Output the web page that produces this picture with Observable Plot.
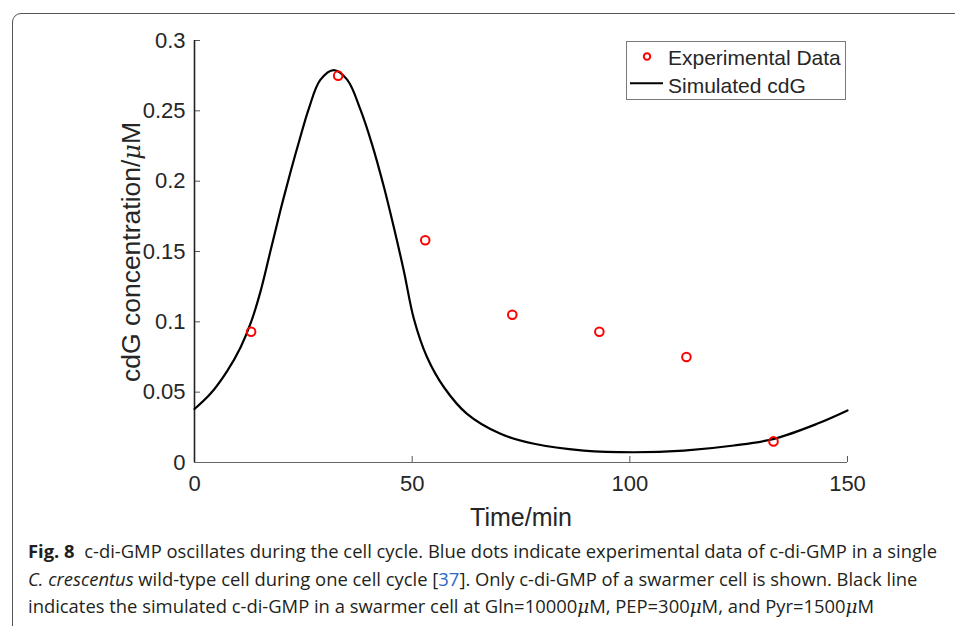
<!DOCTYPE html>
<html>
<head>
<meta charset="utf-8">
<script src="https://cdn.jsdelivr.net/npm/d3@7"></script>
<script src="https://cdn.jsdelivr.net/npm/@observablehq/plot@0.6"></script>
<style>
  html, body { margin: 0; padding: 0; background: #fff; }
  body { width: 955px; height: 626px; overflow: hidden; position: relative; font-family: "Liberation Sans", Arial, sans-serif; }
  #frame { position: absolute; left: 12px; top: 13px; width: 1000px; height: 700px; border: 1px solid #555; border-top-left-radius: 9px; box-sizing: border-box; }
  #chart { position: absolute; left: 0; top: 0; }
  #chart svg text { font-size: 22px; }
  #ylabel { position: absolute; left: 131px; top: 252px; transform: translate(-50%, -50%) rotate(-90deg); white-space: nowrap; font-size: 26.5px; color: #262626; }
  #xlabel { position: absolute; left: 521px; top: 503px; transform: translateX(-50%); white-space: nowrap; font-size: 25px; color: #262626; }
  #legend { position: absolute; left: 626px; top: 41px; }
  #caption { position: absolute; left: 28px; top: 537px; font-family: "Open Sans", sans-serif; font-size: 18.4px; line-height: 27.5px; color: #231f20; white-space: nowrap; }
  #caption a { color: #2d67c8; text-decoration: none; }
</style>
</head>
<body>
<div id="frame"></div>
<div id="chart"></div>
<div id="ylabel">cdG concentration/<i style="font-family:'DejaVu Serif',serif;font-size:24px">μ</i>M</div>
<div id="xlabel">Time/min</div>
<svg id="legend" width="221" height="60">
  <rect x="0.5" y="0.5" width="219" height="58" fill="#fff" stroke="#7a7a7a" stroke-width="1"></rect>
  <circle cx="21" cy="15.5" r="3.2" fill="none" stroke="#ff0000" stroke-width="2"></circle>
  <text x="42" y="23.5" font-size="21" fill="#262626" font-family="Liberation Sans, Arial, sans-serif">Experimental Data</text>
  <line x1="4" x2="37" y1="42.3" y2="42.3" stroke="#000" stroke-width="2"></line>
  <text x="42" y="51.5" font-size="21" fill="#262626" font-family="Liberation Sans, Arial, sans-serif">Simulated cdG</text>
</svg>
<div id="caption"><b>Fig. 8</b>&nbsp; c-di-GMP oscillates during the cell cycle. Blue dots indicate experimental data of c-di-GMP in a single<br><i>C. crescentus</i> wild-type cell during one cell cycle [<a>37</a>]. Only c-di-GMP of a swarmer cell is shown. Black line<br>indicates the simulated c-di-GMP in a swarmer cell at Gln=10000<i style="font-family:'DejaVu Serif',serif">μ</i>M, PEP=300<i style="font-family:'DejaVu Serif',serif">μ</i>M, and Pyr=1500<i style="font-family:'DejaVu Serif',serif">μ</i>M</div>
<script>
// Simulated cdG curve (time in min, concentration in μM)
const simTime = [0, 3.7, 7.5, 10.6, 12.9, 15.2, 17.5, 19.8, 22.1, 24.0, 26.3, 28.9, 32.0, 35.1, 38.1, 40.8, 43.5, 45.8, 48.1, 50.4, 53.4, 57.3, 62.6, 70.3, 78.0, 89.4, 100.9, 112.4, 123.9, 133.1, 143.0, 150];
const simConc = [0.038, 0.049, 0.065, 0.082, 0.099, 0.122, 0.151, 0.180, 0.207, 0.228, 0.252, 0.272, 0.279, 0.272, 0.251, 0.226, 0.196, 0.167, 0.136, 0.102, 0.075, 0.0535, 0.0346, 0.0204, 0.0133, 0.0085, 0.0073, 0.0085, 0.0121, 0.0168, 0.0275, 0.037];

// Experimental data
const expTime = [13, 33, 53, 73, 93, 113, 133];
const expConc = [0.093, 0.275, 0.158, 0.105, 0.093, 0.075, 0.015];

// Ticks
const xTicks = [0, 50, 100, 150];
const xTickLabels = ["0", "50", "100", "150"];
const yTicks = [0, 0.05, 0.1, 0.15, 0.2, 0.25, 0.3];
const yTickLabels = ["0", "0.05", "0.1", "0.15", "0.2", "0.25", "0.3"];

const sim = simTime.map((t, i) => ({t, c: simConc[i]}));
const exp = expTime.map((t, i) => ({t, c: expConc[i]}));
const xLab = new Map(xTicks.map((d, i) => [d, xTickLabels[i]]));
const yLab = new Map(yTicks.map((d, i) => [d, yTickLabels[i]]));

const W = 955, H = 530, ML = 194, MR = 108, MT = 40, MB = 68;
const plotW = W - ML - MR, plotH = H - MT - MB, tick = 6;

const chart = Plot.plot({
  width: W,
  height: H,
  marginLeft: ML,
  marginRight: MR,
  marginTop: MT,
  marginBottom: MB,
  style: { background: "transparent", fontFamily: "Liberation Sans, Arial, sans-serif", fontSize: "22px", color: "#262626" },
  x: { domain: [0, 150] },
  y: { domain: [0, 0.3] },
  marks: [
    // inward tick marks (MATLAB style)
    Plot.ruleX(xTicks, { x: d => d, insetTop: plotH - tick, stroke: "#555", strokeWidth: 1 }),
    Plot.ruleY(yTicks, { y: d => d, insetRight: plotW - tick, stroke: "#555", strokeWidth: 1 }),
    Plot.ruleY([0], { stroke: "#666", strokeWidth: 1 }),
    Plot.ruleX([0], { stroke: "#222", strokeWidth: 1.6 }),
    Plot.axisX(xTicks, { tickSize: 0, tickPadding: 13, fontSize: 22, tickFormat: d => xLab.get(d), label: null, fill: "#262626" }),
    Plot.axisY(yTicks, { tickSize: 0, tickPadding: 9, fontSize: 22, tickFormat: d => yLab.get(d), label: null, fill: "#262626" }),
    Plot.line(sim, { x: "t", y: "c", stroke: "#000", strokeWidth: 2.2, curve: "catmull-rom" }),
    Plot.dot(exp, { x: "t", y: "c", r: 4.3, stroke: "#ff0000", strokeWidth: 2, fill: "none" })
  ]
});
document.getElementById("chart").appendChild(chart);
</script>
</body>
</html>
